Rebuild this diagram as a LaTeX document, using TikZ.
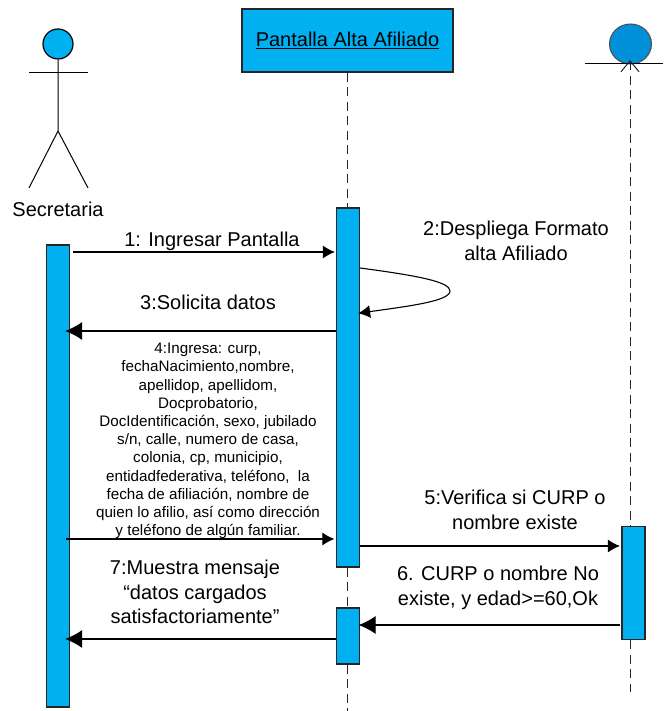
\documentclass[tikz,border=0pt]{standalone}
\usepackage{fontspec}
\setmainfont{Liberation Sans}
\usetikzlibrary{arrows.meta, shapes.geometric}
\definecolor{barblue}{HTML}{00B0F0}
\definecolor{entityblue}{HTML}{0090DA}
\tikzset{
  actbar/.style={draw=black!85, fill=barblue, line width=1.2pt, minimum width=23pt, inner sep=0pt},
  lifeline/.style={draw=black!85, line width=1pt, dash pattern=on 9pt off 5.5pt},
  msg/.style={draw=black, line width=1.1pt, -{Latex[length=12pt,width=13pt]}},
  msgback/.style={draw=black, line width=1.1pt, -{Latex[length=17pt,width=18pt]}},
  biglabel/.style={align=center, inner sep=0pt, font=\fontsize{20}{24.6}\selectfont},
  smalllabel/.style={align=center, inner sep=0pt, font=\fontsize{15.2}{18.2}\selectfont}
}

\begin{document}
\begin{tikzpicture}[x=1pt, y=-1pt]
        \useasboundingbox (0,0) rectangle (663,711);

        \node[draw=black, fill=barblue, line width=1.2pt, circle, minimum size=30pt, inner sep=0pt]
        (head) at (58,44) {};
        \coordinate (hip) at (58,131);
        \coordinate (armleft) at (29,72.5);
        \coordinate (armright) at (88,72.5);
        \coordinate (footleft) at (29,188);
        \coordinate (footright) at (88,188);
        \draw[line width=1pt] (head.south) -- (hip) -- (footleft) (hip) -- (footright) ;
        \draw[line width=1pt] (armleft) -- (armright) ;
        \node[biglabel] (secretaria) at (58,209) {Secretaria} ;

        \node[draw=black!85, fill=barblue, line width=1.2pt, minimum width=211pt, minimum height=63pt,
        inner sep=0pt, font=\fontsize{20}{24}\selectfont]
        (pantalla) at (347.5,40.5) {\underline{Pantalla Alta Afiliado}} ;

        \node[draw=black!70, fill=entityblue, line width=1pt, ellipse, minimum width=42pt, minimum height=40pt,
        inner sep=0pt] (entity) at (630.5,44) {} ;
        \coordinate (entityleft) at (585,64);
        \coordinate (entityright) at (663,64);
        \draw[line width=1pt] (entityleft) -- (entityright) ;

        \node[actbar, minimum height=462pt] (barsecretaria) at (58,476) {} ;
        \node[actbar, minimum height=359pt] (barpantalla) at (348,387.5) {} ;
        \node[actbar, minimum height=56pt] (barretorno) at (348,636) {} ;
        \node[actbar, minimum height=113pt] (barentity) at (633.5,583) {} ;

        \coordinate (lineP) at (347.5,0);
        \coordinate (lineE) at (630,0);
        \coordinate (entitytop) at (630,60);
        \coordinate (entityend) at (630,692);
        \coordinate (pantallaend) at (347.5,711);
        \draw[lifeline] (lineP |- pantalla.south) -- (lineP |- barpantalla.north) ;
        \draw[lifeline] (lineP |- barpantalla.south) -- (lineP |- barretorno.north) ;
        \draw[lifeline] (lineP |- barretorno.south) -- (pantallaend) ;
        \draw[lifeline, {Straight Barb[length=11pt,width=18pt,line width=1pt]}-] (entitytop) -- (lineE |- barentity.north) ;
        \draw[lifeline] (lineE |- barentity.south) -- (entityend) ;

        \coordinate (m1) at (0,252);
        \coordinate (m2a) at (0,268);
        \coordinate (m2b) at (0,313);
        \coordinate (m3) at (0,331);
        \coordinate (m4) at (0,539);
        \coordinate (m5) at (0,546);
        \coordinate (m6) at (0,625);
        \coordinate (m7) at (0,639);

        \draw[msg, shorten <=3pt, shorten >=1pt] (barsecretaria.east |- m1) -- (barpantalla.west |- m1) ;
        \draw[msg, shorten >=-2pt] (barpantalla.east |- m2a) .. controls (420,276) and (450,282) .. (450,291)
        .. controls (450,301) and (410,306) .. (barpantalla.east |- m2b) ;
        \draw[msgback, shorten >=-5pt] (barpantalla.west |- m3) -- (barsecretaria.east |- m3) ;
        \draw[msg, shorten <=-4pt, shorten >=1.5pt] (barsecretaria.east |- m4) -- (barpantalla.west |- m4) ;
        \draw[msg, shorten >=1.5pt] (barpantalla.east |- m5) -- (barentity.west |- m5) ;
        \draw[msgback, shorten <=1.5pt, shorten >=-1.5pt] (barentity.west |- m6) -- (barretorno.east |- m6) ;
        \draw[msgback, shorten >=-5pt] (barretorno.west |- m7) -- (barsecretaria.east |- m7) ;

        \node[biglabel] (msguno) at (212,241) {1: Ingresar Pantalla} ;
        \node[biglabel] (msgdos) at (516,241) {2:Despliega Formato\\alta Afiliado} ;
        \node[biglabel] (msgtres) at (208,302) {3:Solicita datos} ;
        \node[smalllabel] (msgcuatro) at (208,441) {4:Ingresa: curp,\\fechaNacimiento,nombre,\\apellidop, apellidom,\\Docprobatorio,\\DocIdentificación, sexo, jubilado\\s/n, calle, numero de casa,\\colonia, cp, municipio,\\entidadfederativa, teléfono,\ \ la\\fecha de afiliación, nombre de\\quien lo afilio, así como dirección\\y teléfono de algún familiar.} ;
        \node[biglabel] (msgcinco) at (515,510) {5:Verifica si CURP o\\nombre existe} ;
        \node[biglabel] (msgseis) at (498,588) {6. CURP o nombre No\\existe, y edad>=60,Ok} ;
        \node[biglabel] (msgsiete) at (195,592) {7:Muestra mensaje\\“datos cargados\\satisfactoriamente”} ;
      \end{tikzpicture}
\end{document}
